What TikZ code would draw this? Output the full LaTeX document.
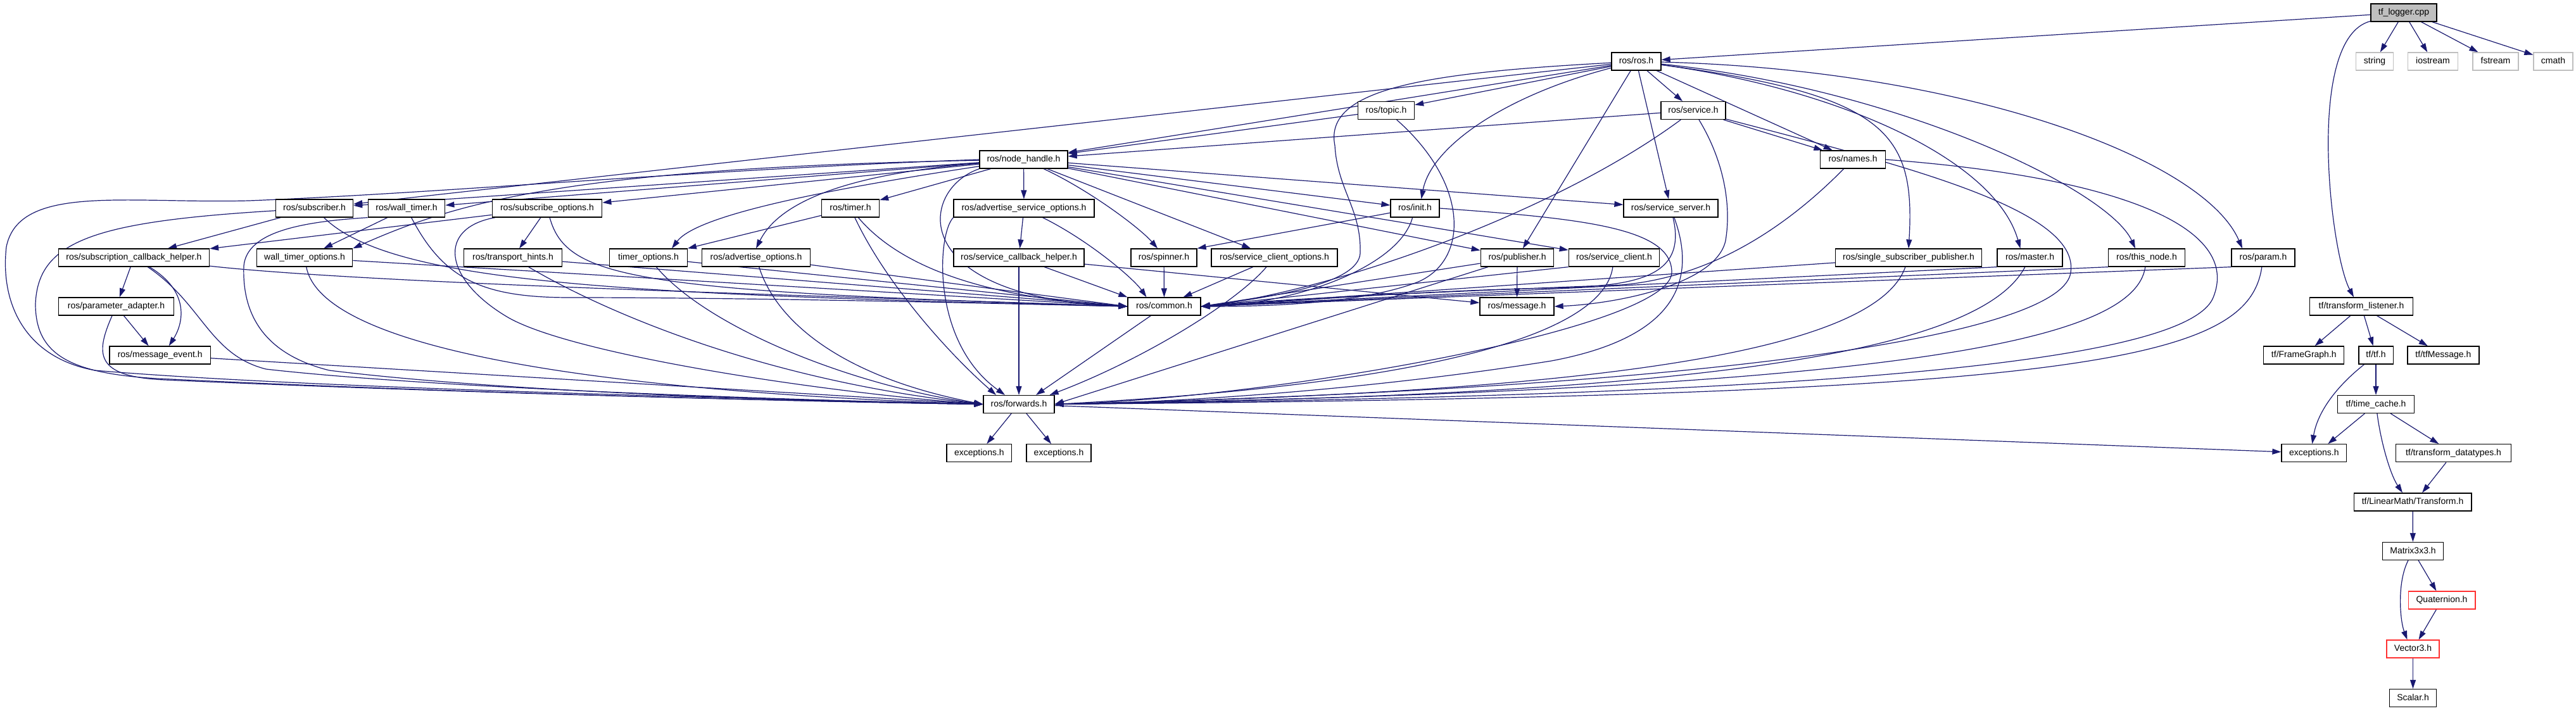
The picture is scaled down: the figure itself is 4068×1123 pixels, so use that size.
\documentclass[tikz,border=0pt]{standalone}
\usepackage{fontspec}
\setmainfont{Liberation Sans}
\usetikzlibrary{arrows.meta}
\pgfdeclarelayer{bg}
\pgfsetlayers{bg,main}
\definecolor{edgec}{HTML}{191970}
\definecolor{grayfill}{HTML}{BFBFBF}
\definecolor{lgray}{HTML}{BFBFBF}
\definecolor{redb}{HTML}{FF3030}
\begin{document}
\begin{tikzpicture}[x=1pt,y=1pt,
  nb/.style={draw=black, line width=1.3pt, fill=white, minimum height=28pt, inner sep=0pt,
    font=\fontsize{14}{16}\selectfont, text height=10.5pt, text depth=3pt},
  ext/.style={nb, draw=lgray},
  redn/.style={nb, draw=redb},
  e/.style={draw=edgec, line width=1.2pt, -{Triangle[length=14pt,width=9pt]}}]
\useasboundingbox (0,0) rectangle (4068,-1123);
% row 0/1
\node[nb, fill=grayfill, minimum width=104pt] (tflog) at (3796,-20) {tf\_logger.cpp};
\node[ext, minimum width=59pt] (string) at (3750,-97) {string};
\node[ext, minimum width=79pt] (iostream) at (3842,-97) {iostream};
\node[ext, minimum width=72pt] (fstream) at (3941,-97) {fstream};
\node[ext, minimum width=62pt] (cmath) at (4032,-97) {cmath};
\node[nb, minimum width=78pt] (rosh) at (2584,-97) {ros/ros.h};
% row 2
\node[nb, minimum width=89pt] (topic) at (2189,-174.5) {ros/topic.h};
\node[nb, minimum width=102pt] (service) at (2674,-174.5) {ros/service.h};
% row 3
\node[nb, minimum width=139pt] (nh) at (1616.5,-252) {ros/node\_handle.h};
\node[nb, minimum width=103pt] (names) at (2926,-252) {ros/names.h};
% row 4
\node[nb, minimum width=122pt] (subscriber) at (496.6,-329) {ros/subscriber.h};
\node[nb, minimum width=121.5pt] (walltimer) at (642,-329) {ros/wall\_timer.h};
\node[nb, minimum width=173.5pt] (subopts) at (864,-329) {ros/subscribe\_options.h};
\node[nb, minimum width=91pt] (timer) at (1343,-329) {ros/timer.h};
\node[nb, minimum width=222pt] (aso) at (1617,-329) {ros/advertise\_service\_options.h};
\node[nb, minimum width=77pt] (init) at (2234.5,-329) {ros/init.h};
\node[nb, minimum width=149pt] (sserver) at (2638.5,-329) {ros/service\_server.h};
% row 5
\node[nb, minimum width=238pt] (cbhelper) at (211.5,-407) {ros/subscription\_callback\_helper.h};
\node[nb, minimum width=151.5pt] (wtopts) at (481,-407) {wall\_timer\_options.h};
\node[nb, minimum width=155.6pt] (thints) at (810,-407) {ros/transport\_hints.h};
\node[nb, minimum width=122.5pt] (topts) at (1024,-407) {timer\_options.h};
\node[nb, minimum width=171pt] (advopts) at (1194,-407) {ros/advertise\_options.h};
\node[nb, minimum width=206pt] (scbhelper) at (1609,-407) {ros/service\_callback\_helper.h};
\node[nb, minimum width=104pt] (spinner) at (1838,-407) {ros/spinner.h};
\node[nb, minimum width=199pt] (scopts) at (2012.5,-407) {ros/service\_client\_options.h};
\node[nb, minimum width=115.5pt] (publisher) at (2396,-407) {ros/publisher.h};
\node[nb, minimum width=143.4pt] (sclient) at (2549,-407) {ros/service\_client.h};
\node[nb, minimum width=231pt] (ssp) at (3014,-407) {ros/single\_subscriber\_publisher.h};
\node[nb, minimum width=103pt] (master) at (3205.5,-407) {ros/master.h};
\node[nb, minimum width=120.6pt] (thisnode) at (3390,-407) {ros/this\_node.h};
\node[nb, minimum width=100pt] (param) at (3574,-407) {ros/param.h};
% row 6
\node[nb, minimum width=181.7pt] (padapter) at (183.5,-484) {ros/parameter\_adapter.h};
\node[nb, minimum width=115pt] (common) at (1838.5,-484) {ros/common.h};
\node[nb, minimum width=117pt] (message) at (2395.5,-484) {ros/message.h};
\node[nb, minimum width=163pt] (tlistener) at (3729,-484) {tf/transform\_listener.h};
% row 7
\node[nb, minimum width=159.5pt] (msgevent) at (252.7,-561) {ros/message\_event.h};
\node[nb, minimum width=127pt] (framegraph) at (3638.3,-561) {tf/FrameGraph.h};
\node[nb, minimum width=54.3pt] (tftf) at (3752,-561) {tf/tf.h};
\node[nb, minimum width=113pt] (tfmsg) at (3858.4,-561) {tf/tfMessage.h};
% row 8
\node[nb, minimum width=112pt] (forwards) at (1609,-638.5) {ros/forwards.h};
\node[nb, minimum width=121pt] (timecache) at (3752,-638.5) {tf/time\_cache.h};
% row 9
\node[nb, minimum width=102.7pt] (exc1) at (1546.4,-715.7) {exceptions.h};
\node[nb, minimum width=102pt] (exc2) at (1672,-715.7) {exceptions.h};
\node[nb, minimum width=102.6pt] (exc3) at (3654.3,-715.7) {exceptions.h};
\node[nb, minimum width=182pt] (tdatatypes) at (3874.5,-715.7) {tf/transform\_datatypes.h};
% rows 10-14
\node[nb, minimum width=185.7pt] (transform) at (3810,-793) {tf/LinearMath/Transform.h};
\node[nb, minimum width=96.3pt] (matrix) at (3810.5,-870.5) {Matrix3x3.h};
\node[redn, minimum width=105.7pt] (quaternion) at (3856,-948) {Quaternion.h};
\node[redn, minimum width=83pt] (vector3) at (3810.5,-1025) {Vector3.h};
\node[nb, minimum width=74pt] (scalar) at (3810.5,-1102.5) {Scalar.h};

\begin{pgfonlayer}{bg}
% tf_logger.cpp
\draw[e] (tflog) -- (rosh);
\draw[e] (tflog) -- (string);
\draw[e] (tflog) -- (iostream);
\draw[e] (tflog) -- (fstream);
\draw[e] (tflog) -- (cmath);
\draw[e] (tflog) .. controls (3640,-60) and (3680,-400) .. ([xshift=-12pt]tlistener.north);
% ros/ros.h
\draw[e] (rosh) -- (nh);
\draw[e] (rosh) -- (subscriber);
\draw[e] (rosh) -- (topic);
\draw[e] (rosh) .. controls (2380,-150) and (2260,-230) .. ([xshift=10pt]init.north);
\draw[e] (rosh) .. controls (2250,-115) and (2090,-140) .. (2108,-230) .. controls (2112,-300) and (2150,-330) .. (2148,-400) .. controls (2145,-450) and (2000,-470) .. (common.east);
\draw[e] (rosh) -- (publisher);
\draw[e] (rosh) -- (sserver);
\draw[e] (rosh) -- (service);
\draw[e] (rosh) -- (names);
\draw[e] (rosh) .. controls (2980,-150) and (3025,-210) .. (ssp.north);
\draw[e] (rosh) .. controls (2900,-140) and (3150,-250) .. ([xshift=-15pt]master.north);
\draw[e] (rosh) .. controls (3000,-140) and (3330,-300) .. ([xshift=-18pt]thisnode.north);
\draw[e] (rosh) .. controls (3100,-110) and (3480,-250) .. ([xshift=-33pt]param.north);
% topic
\draw[e] (topic) -- (nh);
\draw[e] (topic) .. controls (2320,-290) and (2320,-410) .. (2240,-445) .. controls (2150,-480) and (2000,-484) .. (common.east);
% service
\draw[e] (service) -- (nh);
\draw[e] (service) -- (names);
\draw[e] (service) .. controls (2450,-340) and (2100,-460) .. (common.east);
\draw[e] (service) .. controls (2720,-250) and (2735,-320) .. (2725,-380) .. controls (2710,-450) and (2550,-480) .. (message.east);
\draw[e] (service) .. controls (3000,-260) and (3285,-330) .. (3270,-430) .. controls (3260,-520) and (2800,-610) .. (forwards.east);
% names
\draw[e] (names) .. controls (2800,-380) and (2680,-440) .. (2560,-450) .. controls (2300,-460) and (2050,-470) .. (common.east);
\draw[e] (names.east) .. controls (3350,-280) and (3540,-360) .. (3495,-470) .. controls (3450,-580) and (2800,-625) .. (forwards.east);
% node_handle
\draw[e] (nh.west) .. controls (1100,-268) and (700,-305) .. (393,-317) .. controls (200,-322) and (30,-290) .. (10,-390) .. controls (0,-480) and (40,-565) .. (150,-585) .. controls (500,-615) and (1300,-632) .. (forwards.west);
\draw[e] (nh) -- (publisher);
\draw[e] (nh) -- (subscriber);
\draw[e] (nh) -- (sserver);
\draw[e] (nh) -- (sclient);
\draw[e] (nh) -- (timer);
\draw[e] (nh) -- (walltimer);
\draw[e] (nh) .. controls (1400,-270) and (1240,-300) .. (advopts.north);
\draw[e] (nh) -- (aso);
\draw[e] (nh) -- (subopts);
\draw[e] (nh) -- (scopts);
\draw[e] (nh) .. controls (1300,-300) and (1100,-340) .. ([xshift=37pt]topts.north);
\draw[e] (nh) .. controls (900,-265) and (720,-320) .. (wtopts.north east);
\draw[e] (nh) .. controls (1720,-300) and (1800,-360) .. ([xshift=-10pt]spinner.north);
\draw[e] (nh) -- (init);
\draw[e] (nh.south west) .. controls (1450,-300) and (1430,-470) .. (common.west);
% subscriber
\draw[e] (subscriber) -- (cbhelper);
\draw[e] (subscriber) .. controls (620,-450) and (1000,-465) .. (common.west);
\draw[e] (subscriber) .. controls (150,-350) and (60,-380) .. (56,-480) .. controls (56,-560) and (110,-590) .. (250,-598) .. controls (700,-620) and (1300,-635) .. (forwards.west);
% wall_timer
\draw[e] (walltimer) -- (wtopts);
\draw[e] (walltimer) .. controls (700,-440) and (760,-470) .. (900,-470) .. controls (1200,-470) and (1600,-480) .. (common.west);
\draw[e] (walltimer.south west) .. controls (480,-350) and (390,-365) .. (385,-420) .. controls (382,-500) and (420,-560) .. (520,-585) .. controls (800,-620) and (1300,-635) .. (forwards.west);
% subscribe_options
\draw[e] (subopts) -- (cbhelper);
\draw[e] (subopts) -- (thints);
\draw[e] (subopts) .. controls (895,-440) and (1000,-460) .. (common.west);
\draw[e] (subopts) .. controls (690,-360) and (700,-440) .. (800,-500) .. controls (900,-560) and (1300,-620) .. (forwards.west);
% subscription_callback_helper
\draw[e] (cbhelper) -- (padapter);
\draw[e] (cbhelper) .. controls (300,-460) and (290,-510) .. ([xshift=14pt]msgevent.north);
\draw[e] (cbhelper) .. controls (600,-450) and (1400,-470) .. (common.west);
\draw[e] (cbhelper) .. controls (320,-480) and (330,-560) .. (420,-583) .. controls (700,-615) and (1300,-633) .. (forwards.west);
% parameter_adapter, message_event
\draw[e] (padapter) -- ([xshift=-18pt]msgevent.north);
\draw[e] (padapter) .. controls (150,-560) and (150,-595) .. (260,-600) .. controls (700,-620) and (1300,-635) .. (forwards.west);
\draw[e] (msgevent) -- (forwards.west);
% options row
\draw[e] (wtopts) -- (common.west);
\draw[e] (wtopts) .. controls (510,-560) and (1000,-620) .. (forwards.west);
\draw[e] (thints) -- (common.west);
\draw[e] (thints) .. controls (950,-490) and (1200,-600) .. (forwards.west);
\draw[e] (topts) -- (common.west);
\draw[e] (topts) .. controls (1120,-520) and (1350,-610) .. (forwards.west);
\draw[e] (advopts) -- (common.west);
\draw[e] (advopts) .. controls (1230,-520) and (1350,-600) .. (forwards.west);
% timer
\draw[e] (timer) -- (topts.north east);
\draw[e] (timer) .. controls (1400,-450) and (1500,-560) .. ([xshift=-36pt]forwards.north);
\draw[e] (timer) .. controls (1420,-420) and (1550,-470) .. (common.west);
% advertise_service_options
\draw[e] (aso) -- (scbhelper);
\draw[e] (aso.south west) .. controls (1480,-370) and (1470,-540) .. ([xshift=-22pt]forwards.north);
\draw[e] (aso) .. controls (1720,-380) and (1790,-440) .. ([xshift=-28pt]common.north);
% service_callback_helper, spinner, service_client_options
\draw[e] (scbhelper) -- (forwards);
\draw[e] (scbhelper) -- (common.north west);
\draw[e] (scbhelper) -- (message);
\draw[e] (spinner) -- (common);
\draw[e] (scopts) -- ([xshift=30pt]common.north);
\draw[e] (scopts) .. controls (1950,-480) and (1800,-570) .. ([xshift=-8pt]forwards.north east);
% init
\draw[e] (init) -- (spinner.north east);
\draw[e] (init) .. controls (2210,-420) and (2050,-480) .. (common.east);
\draw[e] (init.east) .. controls (2500,-345) and (2640,-360) .. (2640,-430) .. controls (2640,-520) and (2000,-630) .. (forwards.east);
% service_server
\draw[e] (sserver) .. controls (2665,-440) and (2580,-452) .. (2450,-455) .. controls (2200,-460) and (2000,-480) .. (common.east);
\draw[e] (sserver) .. controls (2690,-470) and (2610,-540) .. (2450,-570) .. controls (2200,-610) and (1900,-635) .. (forwards.east);
% service_client
\draw[e] (sclient.south west) -- (common.east);
\draw[e] (sclient) .. controls (2530,-540) and (2200,-610) .. (forwards.east);
% publisher
\draw[e] (publisher) -- (message);
\draw[e] (publisher) -- (common.east);
\draw[e] (publisher) -- (forwards.east);
% single_subscriber_publisher, master, this_node, param
\draw[e] (ssp) -- (common.east);
\draw[e] (ssp) .. controls (2960,-560) and (2500,-620) .. (forwards.east);
\draw[e] (master.south west) -- (common.east);
\draw[e] (master) .. controls (3120,-570) and (2600,-625) .. (forwards.east);
\draw[e] (thisnode.south west) -- (common.east);
\draw[e] (thisnode) .. controls (3370,-540) and (3000,-615) .. (forwards.east);
\draw[e] (param.south west) -- (common.east);
\draw[e] (param) .. controls (3550,-570) and (3300,-625) .. (forwards.east);
% common, forwards
\draw[e] (common) -- ([xshift=27pt]forwards.north);
\draw[e] (forwards) -- (exc1);
\draw[e] (forwards) -- (exc2);
\draw[e] (forwards) -- (exc3);
% tf
\draw[e] (tlistener) -- (framegraph);
\draw[e] (tlistener) -- (tftf);
\draw[e] (tlistener) -- (tfmsg);
\draw[e] (tftf) -- (timecache);
\draw[e] (tftf) .. controls (3690,-610) and (3660,-650) .. ([xshift=-3pt]exc3.north);
\draw[e] (timecache) -- ([xshift=22pt]exc3.north);
\draw[e] (timecache) -- (tdatatypes);
\draw[e] (timecache) .. controls (3760,-700) and (3775,-750) .. ([xshift=-16pt]transform.north);
\draw[e] (tdatatypes) -- ([xshift=15pt]transform.north);
\draw[e] (transform) -- (matrix);
\draw[e] (matrix) -- (quaternion);
\draw[e] (matrix) .. controls (3785,-920) and (3790,-980) .. ([xshift=-9pt]vector3.north);
\draw[e] (quaternion) -- ([xshift=9pt]vector3.north);
\draw[e] (vector3) -- (scalar);
\end{pgfonlayer}
\end{tikzpicture}
\end{document}
